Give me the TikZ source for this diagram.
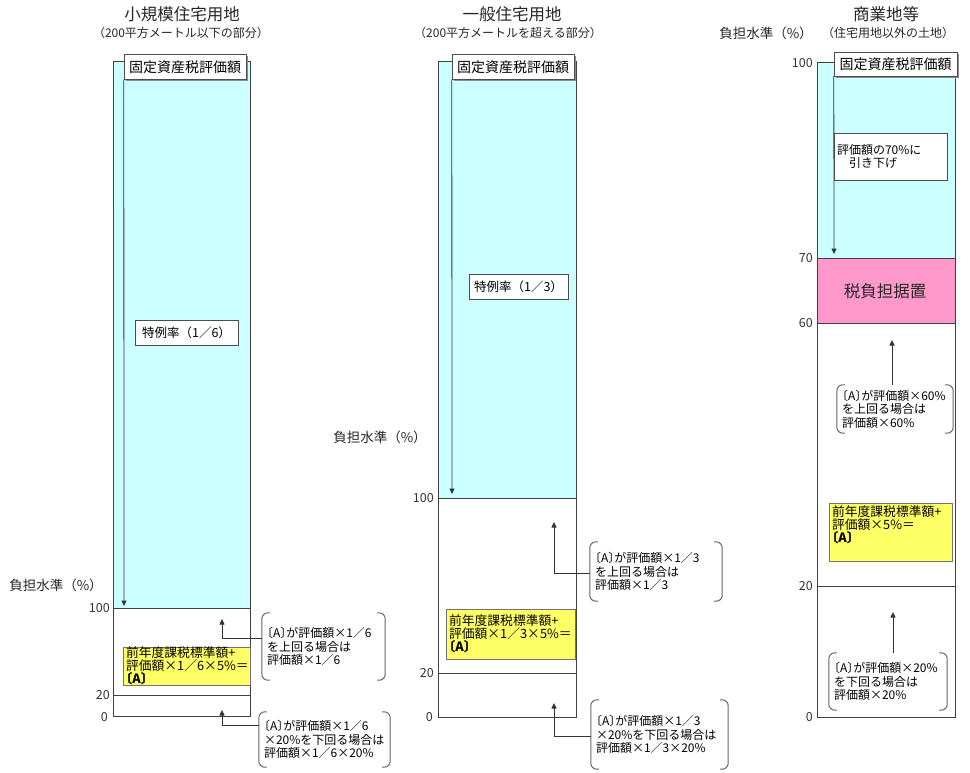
\documentclass[tikz,border=0pt]{standalone}
\usepackage{fontspec}
\setmainfont{Noto Sans CJK JP}
\usetikzlibrary{arrows.meta,shadows}
\definecolor{cyanfill}{HTML}{CCFFFF}
\definecolor{pinkfill}{HTML}{FF99CC}
\definecolor{yellowfill}{HTML}{FFFF66}
\newcommand\Abr{{\addfontfeature{RawFeature=+halt}〔A〕}}
\newcommand\drawbrk[1]{%
  \draw[brkline] ([xshift=8]#1.north west) -- (#1.north west) -- (#1.south west) -- ([xshift=8]#1.south west);
  \draw[brkline] ([xshift=-8]#1.north east) -- (#1.north east) -- (#1.south east) -- ([xshift=-8]#1.south east);}
\tikzset{
  title/.style={font=\fontsize{16.5}{18}\selectfont, inner sep=0, text=black!85},
  sub/.style={font=\fontsize{12}{13}\selectfont, inner sep=0, text=black!85},
  axis/.style={font=\fontsize{13.5}{14}\selectfont, inner sep=0, text=black!85},
  hdr/.style={draw=black!70, fill=white, font=\fontsize{14}{15}\selectfont, inner sep=0,
    drop shadow={shadow xshift=1.5pt, shadow yshift=-1.5pt, fill=black!45, opacity=1}},
  rate/.style={draw=black!70, fill=white, font=\fontsize{12.5}{14}\selectfont, inner sep=0},
  note/.style={draw=black!70, fill=white, font=\fontsize{12}{13}\selectfont, inner xsep=3pt, inner ysep=0, align=left},
  ybox/.style={draw=black!55, fill=yellowfill, inner xsep=3pt, inner ysep=0, align=left, font=\fontsize{12.8}{12.8}\selectfont},
  ytext/.style={font=\fontsize{12.8}{12.8}\selectfont, align=left, inner sep=0, anchor=north west},
  brk/.style={inner xsep=5pt, inner ysep=0, align=left, font=\fontsize{12}{13.5}\selectfont},
  brkline/.style={draw=black!60, rounded corners=6, line width=1},
  tick/.style={font=\fontsize{12.5}{12}\selectfont, anchor=east, inner sep=0, text=black!80},
  arr/.style={-{Triangle[length=5.5,width=5]}, line width=0.8, draw=black!80},
  bar/.style={draw=black!75, line width=1},
  pinklbl/.style={font=\fontsize{16.5}{17}\selectfont, inner sep=0, text=black!85},
}
\begin{document}
\begin{tikzpicture}[x=1pt,y=-1pt]
\useasboundingbox (0,0) rectangle (970,772);

% titles
\node[title] (t1) at (182,14) {小規模住宅用地};
\node[sub] (s1) at (181,33) {（200平方メートル以下の部分）};
\node[title] (t2) at (512,14) {一般住宅用地};
\node[sub] (s2) at (508,33) {（200平方メートルを超える部分）};
\node[title] (t3) at (886,14) {商業地等};
\node[sub] (s3) at (888,33) {（住宅用地以外の土地）};
\node[axis] (ax3) at (766,33) {負担水準（\%）};
\node[axis] (ax1) at (56,585) {負担水準（\%）};
\node[axis] (ax2) at (380,437) {負担水準（\%）};

% ===== left column =====
\fill[cyanfill] (113,61) rectangle (250,608);
\draw[bar] (113,61) rectangle (250,716);
\draw[bar] (113,608) -- (250,608);
\draw[bar] (113,695) -- (250,695);
\node[tick] (l100) at (110,608) {100};
\node[tick] (l20) at (110,695) {20};
\node[tick] (l0) at (108,717) {0};

\node[hdr, minimum width=122, minimum height=25] (h1) at (185,67) {固定資産税評価額};
\coordinate (p1) at (124,606);
\draw[arr] (h1.south west) -- (p1);
\node[rate, minimum width=103, minimum height=25] (r1) at (186.5,332.5) {特例率（1／6）};
\node[ybox, text width=121, minimum height=38] (y1) at (186.5,666) {前年度課税標準額+\\評価額×1／6×5\%＝\\\textbf{\Abr}};

\node[brk, text width=113, minimum height=67] (b1) at (323.5,646.5) {\Abr が評価額×1／6\\を上回る場合は\\評価額×1／6};
\drawbrk{b1}
\coordinate (u1) at (222,619);
\coordinate (k1) at (222,638);
\draw[arr] (b1.west |- k1) -- (k1) -- (u1);

\node[brk, text width=121, minimum height=55] (b2) at (324.5,739.5) {\Abr が評価額×1／6\\×20\%を下回る場合は\\評価額×1／6×20\%};
\drawbrk{b2}
\coordinate (u2) at (222,710);
\coordinate (k2) at (222,725);
\draw[arr] (b2.west |- k2) -- (k2) -- (u2);

% ===== middle column =====
\fill[cyanfill] (438,61) rectangle (576,498);
\draw[bar] (438,61) rectangle (576,717);
\draw[bar] (438,498) -- (576,498);
\draw[bar] (438,673) -- (576,673);
\node[tick] (m100) at (434,498) {100};
\node[tick] (m20) at (434,673) {20};
\node[tick] (m0) at (433,717) {0};

\node[hdr, minimum width=122, minimum height=25] (h2) at (513,67) {固定資産税評価額};
\coordinate (p2) at (452,494);
\draw[arr] (h2.south west) -- (p2);
\node[rate, minimum width=99, minimum height=25] (r2) at (518.5,286.5) {特例率（1／3）};
\node[ybox, text width=123, minimum height=50] (y2) at (510.5,634) {前年度課税標準額+\\評価額×1／3×5\%＝\\\textbf{\Abr}};

\node[brk, text width=122, minimum height=59] (b3) at (656,571.5) {\Abr が評価額×1／3\\を上回る場合は\\評価額×1／3};
\drawbrk{b3}
\coordinate (u3) at (554,522);
\coordinate (k3) at (554,573);
\draw[arr] (b3.west |- k3) -- (k3) -- (u3);

\node[brk, text width=127, minimum height=69] (b4) at (659.5,734.5) {\Abr が評価額×1／3\\×20\%を下回る場合は\\評価額×1／3×20\%};
\drawbrk{b4}
\coordinate (u4) at (554,703);
\coordinate (k4) at (554,736);
\draw[arr] (b4.west |- k4) -- (k4) -- (u4);

% ===== right column =====
\fill[cyanfill] (817,62) rectangle (955,258);
\fill[pinkfill] (817,258) rectangle (955,323);
\draw[bar] (817,62) rectangle (955,717);
\draw[bar] (817,258) -- (955,258);
\draw[bar] (817,323) -- (955,323);
\draw[bar] (817,586) -- (955,586);
\node[tick] (r100) at (813,63) {100};
\node[tick] (r70) at (813,258) {70};
\node[tick] (r60) at (813,323) {60};
\node[tick] (r20) at (813,586) {20};
\node[tick] (r0) at (813,717) {0};

\node[hdr, minimum width=123, minimum height=24] (h3) at (895.5,64) {固定資産税評価額};
\coordinate (p3) at (834,254);
\draw[arr] (h3.south west) -- (p3);
\node[note, text width=107, minimum height=47] (n3) at (890.5,156.5) {評価額の70\%に\\　引き下げ};
\node[pinklbl] (pk) at (885,291) {税負担据置};

\node[brk, text width=106, minimum height=48] (b5) at (895,409) {\Abr が評価額×60\%\\を上回る場合は\\評価額×60\%};
\drawbrk{b5}
\coordinate (u5) at (892,340);
\draw[arr] (b5.north -| u5) -- (u5);

\node[ybox, minimum width=123, minimum height=58] (y3) at (890.5,532) {};
\node[ytext] (y3t) at ([xshift=3pt,yshift=-3pt]y3.north west) {前年度課税標準額+\\評価額×5\%＝\\\textbf{\Abr}};

\node[brk, text width=108, minimum height=57] (b6) at (888,681.5) {\Abr が評価額×20\%\\を下回る場合は\\評価額×20\%};
\drawbrk{b6}
\coordinate (u6) at (893,612);
\draw[arr] (b6.north -| u6) -- (u6);
\end{tikzpicture}
\end{document}
